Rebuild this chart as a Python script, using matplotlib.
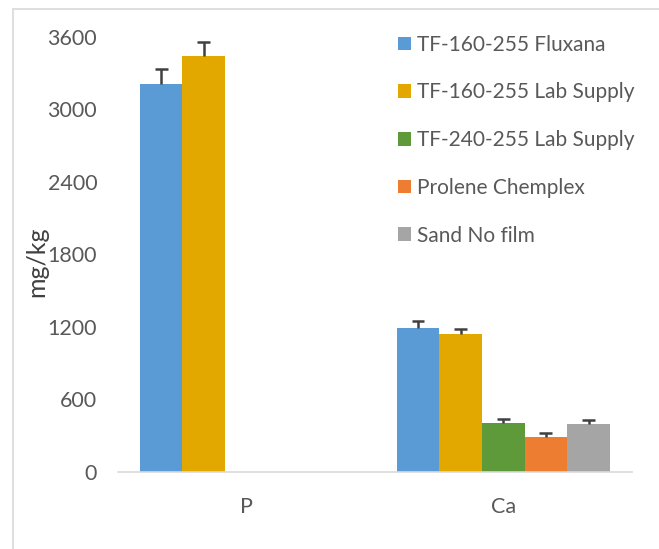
import numpy as np
import matplotlib.pyplot as plt
from matplotlib.patches import Rectangle

categories = ["P", "Ca"]
series = ["TF-160-255 Fluxana", "TF-160-255 Lab Supply", "TF-240-255 Lab Supply",
          "Prolene Chemplex", "Sand No film"]
values = [
    [3207, 1192],
    [3442, 1138],
    [np.nan, 406],
    [np.nan, 290],
    [np.nan, 392],
]
errors = [
    [125, 55],
    [115, 47],
    [np.nan, 30],
    [np.nan, 33],
    [np.nan, 38],
]
colors = ["#5B9BD5", "#E2A800", "#5E9A3A", "#ED7D31", "#A5A5A5"]
yticks = [0, 600, 1200, 1800, 2400, 3000, 3600]

plt.rcParams['font.family'] = ['Lato', 'DejaVu Sans']

W, H = 659, 549
fig = plt.figure(figsize=(W / 100, H / 100), dpi=100)

# outer frame (runs off the right and bottom edges)
fig.patches.append(Rectangle((13 / W, -0.1), 1.2, 1 - 8.5 / H + 0.1,
                             transform=fig.transFigure, fill=False,
                             edgecolor="#D9D9D9", linewidth=1.2))

ax = fig.add_axes([118 / W, 1 - 471.7 / H, (631.7 - 118) / W, (471.7 - 36.7) / H])

x = np.arange(len(categories))
n = len(series)
group_w = 0.83
bw = group_w / n
cap = 0.025
for i in range(n):
    xs = x - group_w / 2 + bw * (i + 0.5)
    vals = np.array(values[i], dtype=float)
    errs = np.array(errors[i], dtype=float)
    ax.bar(xs, vals, width=bw, color=colors[i], label=series[i], zorder=2)
    ok = ~np.isnan(vals)
    # plus-only error bars, cap on top only
    ax.vlines(xs[ok], vals[ok], vals[ok] + errs[ok], color="#404040", linewidth=1.8, zorder=3)
    ax.hlines(vals[ok] + errs[ok], xs[ok] - cap, xs[ok] + cap, color="#404040",
              linewidth=1.8, zorder=3)

ax.set_xlim(-0.5, 1.5)
ax.set_ylim(0, 3600)
ax.set_yticks(yticks)
ax.set_xticks(x)
ax.set_xticklabels(categories)
ax.tick_params(axis="both", length=0, labelsize=15.5, labelcolor="#595959")
ax.tick_params(axis="y", pad=15)
ax.tick_params(axis="x", pad=18)
for s in ["top", "right", "left"]:
    ax.spines[s].set_visible(False)
ax.spines["bottom"].set_color("#D9D9D9")
ax.spines["bottom"].set_linewidth(1.2)
ax.set_facecolor("none")

fig.text(37 / W, 1 - 262 / H, "mg/kg", rotation=90, ha="center", va="center",
         fontsize=18, color="#404040")

fig.legend(loc="upper left", bbox_to_anchor=(379 / W, 1 - 16 / H), frameon=False,
           fontsize=15, labelcolor="#595959", handlelength=0.62, handleheight=0.62,
           handletextpad=0.3, labelspacing=1.33)

fig.savefig("out.png", dpi=100)
